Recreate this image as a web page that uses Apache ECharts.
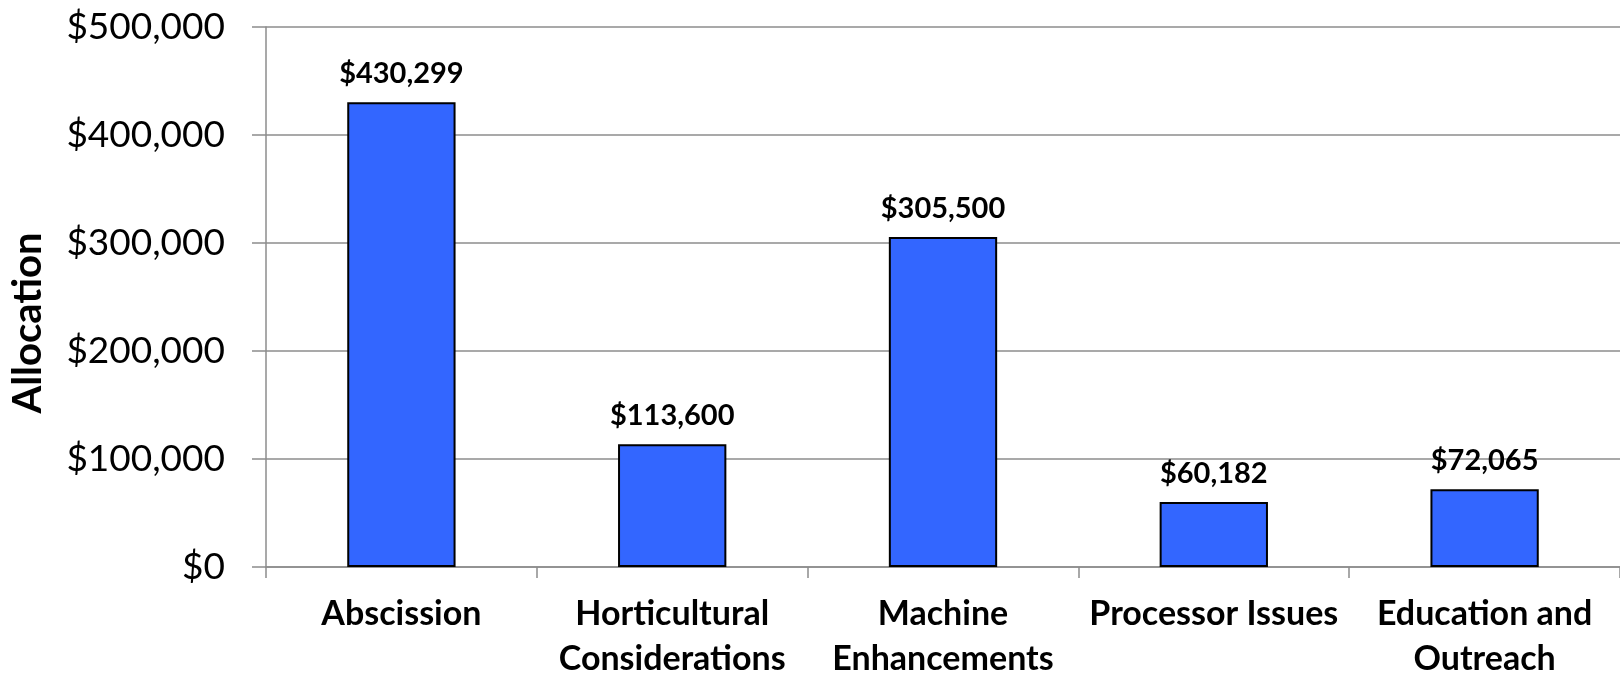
<!DOCTYPE html>
<html>
<head>
<meta charset="utf-8">
<script src="https://cdn.jsdelivr.net/npm/echarts@6/dist/echarts.min.js"></script>
<style>
html,body{margin:0;padding:0;background:#fff;}
#chart{width:1620px;height:675px;}
</style>
</head>
<body>
<div id="chart"></div>
<script>
const categories = ["Abscission", "Horticultural\nConsiderations", "Machine\nEnhancements", "Processor Issues", "Education and\nOutreach"];
const allocation = [430299, 113600, 305500, 60182, 72065];
const yAxisTitle = "Allocation";

function money(v) {
  return "$" + Math.round(v).toString().replace(/\B(?=(\d{3})+(?!\d))/g, ",");
}

const chart = echarts.init(document.getElementById("chart"), null, {renderer: "canvas"});
const FONT = "Lato";
chart.setOption({
  animation: false,
  backgroundColor: "#ffffff",
  grid: {left: 266, right: 0, top: 27, bottom: 108, containLabel: false, outerBoundsMode: "none"},
  xAxis: {
    type: "category",
    data: categories,
    axisLine: {show: true, lineStyle: {color: "#8c8c8c", width: 1.5}},
    axisTick: {show: true, length: 11, alignWithLabel: false, lineStyle: {color: "#8c8c8c", width: 1.5}},
    axisLabel: {
      interval: 0, margin: 25, color: "#000",
      fontFamily: FONT, fontWeight: "bold", fontSize: 34, lineHeight: 45
    }
  },
  yAxis: {
    type: "value",
    min: 0, max: 500000, interval: 100000,
    name: yAxisTitle,
    nameLocation: "middle",
    nameGap: 218,
    nameRotate: 90,
    nameTextStyle: {color: "#000", fontFamily: FONT, fontWeight: "bold", fontSize: 40, padding: [0, 52, 0, 0]},
    axisLine: {show: true, lineStyle: {color: "#8c8c8c", width: 1.5}},
    axisTick: {show: true, length: 14, lineStyle: {color: "#8c8c8c", width: 1.5}},
    splitLine: {show: true, lineStyle: {color: "#8c8c8c", width: 1.5}},
    axisLabel: {
      margin: 41, color: "#000", fontFamily: FONT, fontSize: 37,
      formatter: money
    }
  },
  series: [{
    type: "bar",
    data: allocation,
    barWidth: "40%",
    itemStyle: {color: "#3366ff", borderColor: "#000", borderWidth: 2},
    label: {
      show: true, position: "top", distance: 14,
      color: "#000", fontFamily: FONT, fontWeight: "bold", fontSize: 29,
      formatter: p => money(p.value)
    }
  }]
});
</script>
</body>
</html>
